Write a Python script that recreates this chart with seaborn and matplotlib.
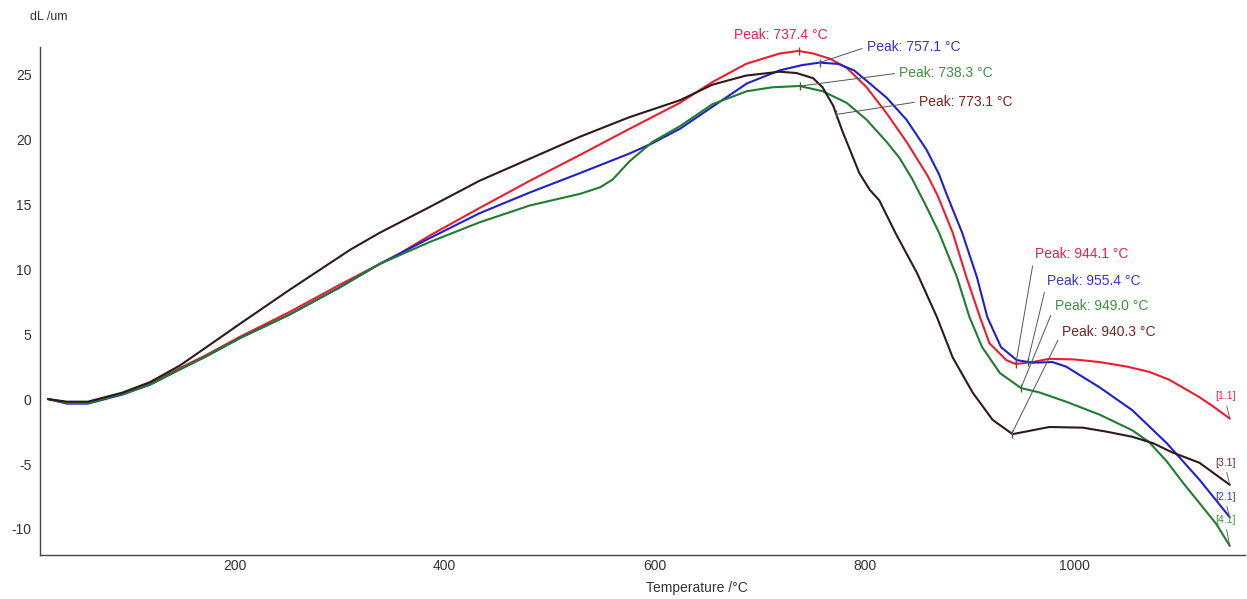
import numpy as np
import pandas as pd
import seaborn as sns
import matplotlib
matplotlib.use("Agg")
import matplotlib.pyplot as plt

# muestras y colores
muestras = ["[1.1]", "[2.1]", "[4.1]", "[3.1]"]
colores = ["#ee1c2e", "#1f1fd2", "#1e7d2e", "#2e1a1a"]
colores_texto = ["#e8204f", "#3535c8", "#3f8f3f", "#7a2222"]

# curvas dL (um) vs temperatura (C)
t_rojo = [22, 40, 60, 93, 119, 148, 173, 205, 252, 300, 357, 386, 433, 481, 529,
          576, 624, 655, 687, 719, 737, 751, 767, 783, 802, 821, 840, 860, 870, 884,
          897, 910, 919, 935, 944, 960, 976, 1000, 1024, 1050, 1071, 1090, 1103, 1118,
          1131, 1148]
dl_rojo = [0, -0.25, -0.25, 0.45, 1.2, 2.4, 3.4, 4.8, 6.7, 8.8, 11.2, 12.6, 14.7, 16.8,
           18.8, 20.8, 22.8, 24.4, 25.8, 26.6, 26.8, 26.6, 26.2, 25.5, 24.0, 22.0, 19.8,
           17.2, 15.6, 12.8, 9.4, 6.3, 4.3, 3.0, 2.7, 2.85, 3.1, 3.05, 2.85, 2.5, 2.1,
           1.5, 0.9, 0.2, -0.5, -1.5]

t_azul = [22, 40, 60, 93, 119, 148, 173, 205, 252, 300, 338, 386, 433, 481, 529, 576,
          598, 624, 655, 688, 719, 740, 757, 775, 790, 802, 821, 840, 859, 871, 878, 893,
          907, 917, 930, 945, 960, 979, 992, 1024, 1055, 1088, 1119, 1148]
dl_azul = [0, -0.35, -0.35, 0.35, 1.1, 2.3, 3.3, 4.7, 6.5, 8.6, 10.4, 12.4, 14.3, 15.9,
           17.4, 18.9, 19.7, 20.8, 22.5, 24.3, 25.3, 25.7, 25.9, 25.8, 25.3, 24.5, 23.2,
           21.5, 19.2, 17.3, 15.8, 12.8, 9.4, 6.3, 4.0, 3.0, 2.8, 2.85, 2.5, 0.9, -0.85,
           -3.4, -6.2, -9.1]

t_verde = [22, 40, 60, 93, 119, 148, 173, 205, 252, 300, 338, 386, 433, 481, 529, 548,
           560, 576, 598, 624, 655, 688, 712, 738, 760, 783, 802, 821, 833, 845, 859, 871,
           888, 900, 912, 929, 949, 967, 992, 1024, 1055, 1071, 1088, 1103, 1119, 1135,
           1148]
dl_verde = [0, -0.3, -0.3, 0.4, 1.1, 2.3, 3.3, 4.7, 6.5, 8.6, 10.4, 12.1, 13.6, 14.9,
            15.8, 16.3, 16.9, 18.3, 19.8, 21.0, 22.7, 23.7, 24.0, 24.1, 23.7, 22.8, 21.5,
            19.8, 18.6, 17.0, 14.8, 12.8, 9.4, 6.3, 4.0, 2.0, 0.85, 0.5, -0.2, -1.2, -2.4,
            -3.3, -4.8, -6.4, -8.0, -9.6, -11.3]

t_negro = [22, 40, 60, 93, 119, 148, 173, 205, 252, 310, 338, 386, 433, 481, 529, 576,
           624, 655, 687, 719, 735, 751, 760, 770, 779, 786, 795, 805, 814, 830, 850, 869,
           884, 903, 922, 941, 960, 976, 1008, 1030, 1055, 1075, 1093, 1119, 1148]
dl_negro = [0, -0.2, -0.2, 0.5, 1.3, 2.6, 4.0, 5.8, 8.4, 11.5, 12.8, 14.8, 16.8, 18.5,
            20.2, 21.7, 23.0, 24.2, 24.9, 25.2, 25.1, 24.7, 24.0, 22.6, 20.6, 19.2, 17.4,
            16.1, 15.3, 12.7, 9.7, 6.3, 3.2, 0.5, -1.6, -2.7, -2.4, -2.15, -2.2, -2.5,
            -2.9, -3.4, -4.1, -4.9, -6.6]

# picos: (indice muestra, temperatura, posicion texto T, posicion texto dL)
picos_idx = [0, 1, 2, 3, 0, 1, 2, 3]
picos_t = [737.4, 757.1, 738.3, 773.1, 944.1, 955.4, 949.0, 940.3]
picos_txt_x = [676, 802, 833, 852, 962, 974, 981, 988]
picos_txt_y = [28.0, 27.1, 25.1, 22.9, 11.15, 9.1, 7.15, 5.15]

# etiquetas finales de cada curva
fin_txt_y = [0.2, -7.5, -9.3, -4.9]

curvas = [(t_rojo, dl_rojo), (t_azul, dl_azul), (t_verde, dl_verde), (t_negro, dl_negro)]

df = pd.concat([
    pd.DataFrame({"T": t, "dL": d, "muestra": m})
    for (t, d), m in zip(curvas, muestras)
], ignore_index=True)

sns.set_style("white")
plt.rcParams["font.family"] = ["Liberation Sans", "DejaVu Sans"]
plt.rcParams["axes.unicode_minus"] = False

fig = plt.figure(figsize=(12.47, 5.99), dpi=100)
ax = fig.add_axes([0.032, 0.0735, 0.966, 0.848])

sns.lineplot(
    data=df, x="T", y="dL", hue="muestra",
    palette=dict(zip(muestras, colores)),
    estimator=None, sort=False, legend=False, linewidth=1.5, ax=ax,
)

ax.set_xlim(14.3, 1162)
ax.set_ylim(-12.0, 27.1)
ax.set_xticks([200, 400, 600, 800, 1000])
ax.set_yticks([-10, -5, 0, 5, 10, 15, 20, 25])
ax.set_xlabel("")
ax.set_ylabel("")
ax.tick_params(axis="x", direction="inout", length=4, labelsize=10, colors="#333333", pad=1)
ax.tick_params(axis="y", direction="out", length=4, labelsize=10, colors="#333333", pad=2)

for lado in ["top", "right"]:
    ax.spines[lado].set_visible(False)
for lado in ["left", "bottom"]:
    ax.spines[lado].set_color("#444444")
    ax.spines[lado].set_linewidth(1.0)

# anotaciones de picos
for i, tp, tx, ty in zip(picos_idx, picos_t, picos_txt_x, picos_txt_y):
    t, d = curvas[i]
    yp = np.interp(tp, t, d)
    ax.plot([tp], [yp], marker="|", markersize=6, color="#555555", mew=1)
    if tp == 737.4:
        ax.text(tx, ty, f"Peak: {tp:.1f} °C", color=colores_texto[i], fontsize=10,
                va="center", ha="left", clip_on=False)
    else:
        ax.annotate(f"Peak: {tp:.1f} °C", xy=(tp, yp), xytext=(tx, ty),
                    color=colores_texto[i], fontsize=10, va="center", ha="left",
                    annotation_clip=False,
                    arrowprops=dict(arrowstyle="-", color="#555555", lw=0.7,
                                    relpos=(0, 0.5), shrinkA=1, shrinkB=0))

# etiquetas al final de las curvas
for (t, d), m, c, ty in zip(curvas, muestras, colores_texto, fin_txt_y):
    ax.annotate(m, xy=(t[-1], d[-1]), xytext=(t[-1] - 4, ty), color=c, fontsize=7.5,
                ha="center", va="center", annotation_clip=False,
                arrowprops=dict(arrowstyle="-", color="#555555", lw=0.6,
                                relpos=(0.5, 0), shrinkA=1, shrinkB=0))

fig.text(30 / 1247, 1 - 17 / 599, "dL /um", fontsize=9, color="#333333", va="center", ha="left")
fig.text(697 / 1247, 1 - 588 / 599, "Temperature /°C", fontsize=10, color="#333333",
         va="center", ha="center")

fig.savefig("out.png", dpi=100)
